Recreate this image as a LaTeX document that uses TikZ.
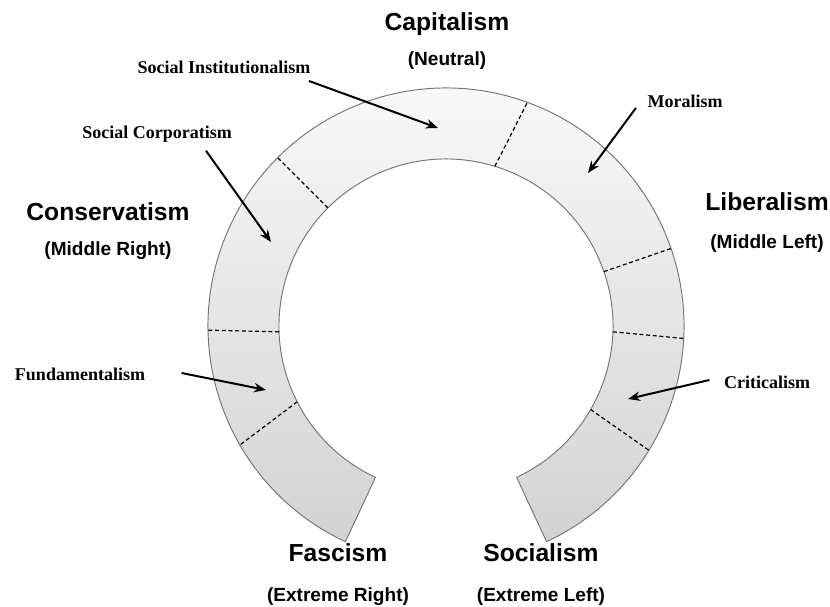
\documentclass[tikz,border=0pt]{standalone}
\usepackage{fontspec}
\setmainfont{Liberation Serif}
\setsansfont{Liberation Sans}
\usetikzlibrary{positioning,arrows.meta}

\begin{document}
\begin{tikzpicture}[x=0.75pt, y=0.75pt,
    camp/.style={font=\sffamily\bfseries\fontsize{18.5}{20}\selectfont, inner sep=0pt, text height=13.2pt, text depth=0pt},
    campnote/.style={font=\sffamily\bfseries\fontsize{14.3}{16}\selectfont, inner sep=0pt, text height=10.2pt, text depth=0pt},
    school/.style={font=\rmfamily\bfseries\fontsize{13.5}{15}\selectfont, inner sep=1pt},
    pointer/.style={-{Stealth[length=9pt,width=7pt]}, line width=1.5pt},
    divider/.style={line width=0.9pt, dash pattern=on 3pt off 2pt},
    band/.style={draw=black!55, line width=0.7pt, top color=gray!3, bottom color=gray!35}]
    \useasboundingbox (0,0) rectangle (830,606);

    % the open ring
    \begin{scope}[shift={(446,280)}]
        \path[band] (245:238) arc[start angle=245, end angle=-65, radius=238]
            -- (-65:167) arc[start angle=-65, end angle=245, radius=167] -- cycle;
        \foreach \a/\b in {73/70, 135/135, 19/19, -2/-3, -30/-31.5, 182/181, 207/210}
            \draw[divider] (\a:167) -- (\b:238);
    \end{scope}

    % main positions
    \node[camp] (cap) at (447,584) {Capitalism};
    \node[campnote, below=15.3pt of cap] (capN) {(Neutral)};
    \node[camp] (cons) at (108,394) {Conservatism};
    \node[campnote, below=15.3pt of cons] (consN) {(Middle Right)};
    \node[camp] (lib) at (767,404) {Liberalism};
    \node[campnote, below=17.5pt of lib] (libN) {(Middle Left)};
    \node[camp] (fas) at (338,53) {Fascism};
    \node[campnote, below=19pt of fas] (fasN) {(Extreme Right)};
    \node[camp] (soc) at (541,53) {Socialism};
    \node[campnote, below=19pt of soc] (socN) {(Extreme Left)};

    % schools pointing into the ring
    \node[school] (SI) at (224,539) {Social Institutionalism};
    \node[school] (SC) at (157,472) {Social Corporatism};
    \node[school] (Mor) at (685,505) {Moralism};
    \node[school] (Fund) at (80,232) {Fundamentalism};
    \node[school] (Crit) at (767,224) {Criticalism};

    \coordinate (siTip) at (438,478);
    \coordinate (scTip) at (271,364);
    \coordinate (morTip) at (588,433);
    \coordinate (fundTip) at (266,216);
    \coordinate (critTip) at (628,207);

    \draw[pointer] ([shift={(-3,-6)}]SI.south east) -- (siTip);
    \draw[pointer] ([shift={(49,-7)}]SC.south) -- (scTip);
    \draw[pointer] ([shift={(-10,1)}]Mor.south west) -- (morTip);
    \draw[pointer] ([shift={(35,1)}]Fund.east) -- (fundTip);
    \draw[pointer] ([shift={(-13,2)}]Crit.west) -- (critTip);
\end{tikzpicture}
\end{document}
